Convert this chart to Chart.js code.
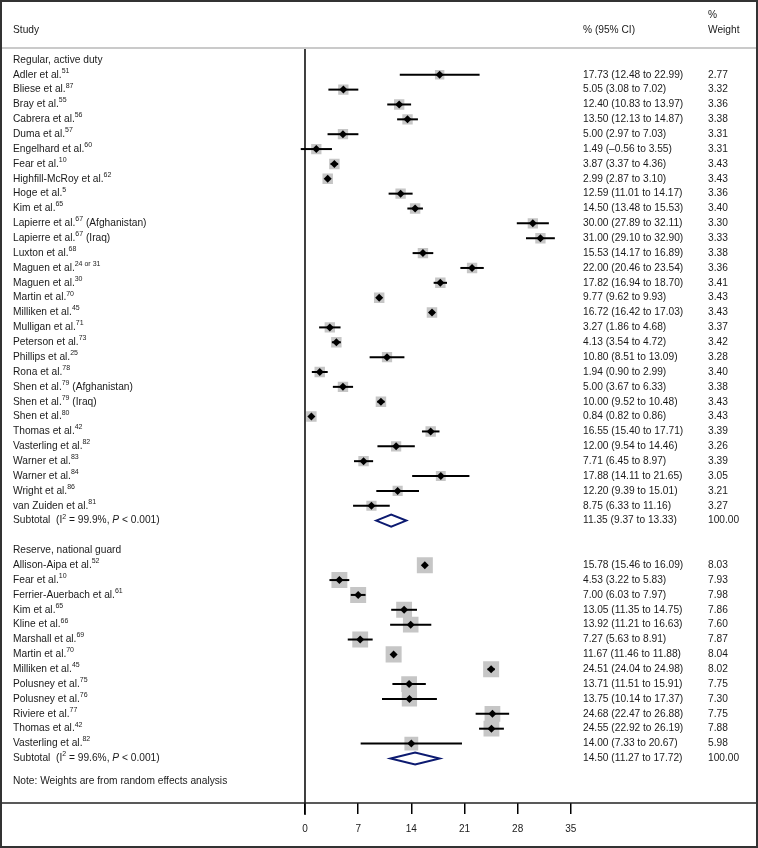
<!DOCTYPE html>
<html>
<head>
<meta charset="utf-8">
<title>Forest plot</title>
<script src="https://cdn.jsdelivr.net/npm/chart.js@4.4.1/dist/chart.umd.min.js"></script>
<style>
  html, body { margin: 0; padding: 0; background: #fff; }
  #wrap { width: 758px; height: 848px; }
</style>
</head>
<body>
<div id="wrap"><canvas id="forest" width="758" height="848"></canvas></div>
<script>
// {..} = superscript, [..] = italic
const regTitle = 'Regular, active duty';
const regNames = [
  'Adler et al.{51}', 'Bliese et al.{87}', 'Bray et al.{55}', 'Cabrera et al.{56}',
  'Duma et al.{57}', 'Engelhard et al.{60}', 'Fear et al.{10}', 'Highfill-McRoy et al.{62}',
  'Hoge et al.{5}', 'Kim et al.{65}', 'Lapierre et al.{67} (Afghanistan)', 'Lapierre et al.{67} (Iraq)',
  'Luxton et al.{68}', 'Maguen et al.{24 or 31}', 'Maguen et al.{30}', 'Martin et al.{70}',
  'Milliken et al.{45}', 'Mulligan et al.{71}', 'Peterson et al.{73}', 'Phillips et al.{25}',
  'Rona et al.{78}', 'Shen et al.{79} (Afghanistan)', 'Shen et al.{79} (Iraq)', 'Shen et al.{80}',
  'Thomas et al.{42}', 'Vasterling et al.{82}', 'Warner et al.{83}', 'Warner et al.{84}',
  'Wright et al.{86}', 'van Zuiden et al.{81}'
];
const regEst = [17.73, 5.05, 12.40, 13.50, 5.00, 1.49, 3.87, 2.99, 12.59, 14.50, 30.00, 31.00,
  15.53, 22.00, 17.82, 9.77, 16.72, 3.27, 4.13, 10.80, 1.94, 5.00, 10.00, 0.84,
  16.55, 12.00, 7.71, 17.88, 12.20, 8.75];
const regLo = [12.48, 3.08, 10.83, 12.13, 2.97, -0.56, 3.37, 2.87, 11.01, 13.48, 27.89, 29.10,
  14.17, 20.46, 16.94, 9.62, 16.42, 1.86, 3.54, 8.51, 0.90, 3.67, 9.52, 0.82,
  15.40, 9.54, 6.45, 14.11, 9.39, 6.33];
const regHi = [22.99, 7.02, 13.97, 14.87, 7.03, 3.55, 4.36, 3.10, 14.17, 15.53, 32.11, 32.90,
  16.89, 23.54, 18.70, 9.93, 17.03, 4.68, 4.72, 13.09, 2.99, 6.33, 10.48, 0.86,
  17.71, 14.46, 8.97, 21.65, 15.01, 11.16];
const regWeight = [2.77, 3.32, 3.36, 3.38, 3.31, 3.31, 3.43, 3.43, 3.36, 3.40, 3.30, 3.33,
  3.38, 3.36, 3.41, 3.43, 3.43, 3.37, 3.42, 3.28, 3.40, 3.38, 3.43, 3.43,
  3.39, 3.26, 3.39, 3.05, 3.21, 3.27];
const regSubtotal = [11.35, 9.37, 13.33];
const regSubLabel = 'Subtotal  (I{2} = 99.9%, [P] < 0.001)';

const resTitle = 'Reserve, national guard';
const resNames = [
  'Allison-Aipa et al.{52}', 'Fear et al.{10}', 'Ferrier-Auerbach et al.{61}', 'Kim et al.{65}',
  'Kline et al.{66}', 'Marshall et al.{69}', 'Martin et al.{70}', 'Milliken et al.{45}',
  'Polusney et al.{75}', 'Polusney et al.{76}', 'Riviere et al.{77}', 'Thomas et al.{42}',
  'Vasterling et al.{82}'
];
const resEst = [15.78, 4.53, 7.00, 13.05, 13.92, 7.27, 11.67, 24.51, 13.71, 13.75, 24.68, 24.55, 14.00];
const resLo = [15.46, 3.22, 6.03, 11.35, 11.21, 5.63, 11.46, 24.04, 11.51, 10.14, 22.47, 22.92, 7.33];
const resHi = [16.09, 5.83, 7.97, 14.75, 16.63, 8.91, 11.88, 24.98, 15.91, 17.37, 26.88, 26.19, 20.67];
const resWeight = [8.03, 7.93, 7.98, 7.86, 7.60, 7.87, 8.04, 8.02, 7.75, 7.30, 7.75, 7.88, 5.98];
const resSubtotal = [14.50, 11.27, 17.72];
const resSubLabel = 'Subtotal  (I{2} = 99.6%, [P] < 0.001)';

const noteText = 'Note: Weights are from random effects analysis';
const xTicks = [0, 7, 14, 21, 28, 35];

// build row layout: one row per line of the table
const studies = [];
const subtotals = [];
const labels = [];
let row = 0;
function addGroup(title, names, est, lo, hi, w, sub, subLabel) {
  labels.push({ row: row++, text: title });
  names.forEach((n, i) => {
    studies.push({ row: row, est: est[i], lo: lo[i], hi: hi[i], w: w[i] });
    labels.push({ row: row++, text: n, ci: [est[i], lo[i], hi[i]], w: w[i] });
  });
  subtotals.push({ row: row, est: sub[0], lo: sub[1], hi: sub[2] });
  labels.push({ row: row++, text: subLabel, ci: sub, w: 100 });
  row++; // blank line
}
addGroup(regTitle, regNames, regEst, regLo, regHi, regWeight, regSubtotal, regSubLabel);
addGroup(resTitle, resNames, resEst, resLo, resHi, resWeight, resSubtotal, resSubLabel);
labels.push({ row: row - 0.5, text: noteText });

const FONT = '10.2px "Liberation Sans", Arial, sans-serif';
const SUP = '7px "Liberation Sans", Arial, sans-serif';
const fmt = v => v.toFixed(2).replace('-', '\u2013');

function drawRich(ctx, text, x, y) {
  text.split(/(\{[^}]*\}|\[[^\]]*\])/).filter(s => s).forEach(p => {
    let s = p, dy = 0;
    ctx.font = FONT;
    if (p[0] === '{') { s = p.slice(1, -1); ctx.font = SUP; dy = -4; }
    else if (p[0] === '[') { s = p.slice(1, -1); ctx.font = 'italic ' + FONT; }
    ctx.fillText(s, x, y + dy);
    x += ctx.measureText(s).width;
  });
}

const forestPlugin = {
  id: 'forest',
  beforeDraw(chart) {
    const c = chart.ctx;
    c.save();
    c.fillStyle = '#fff';
    c.fillRect(0, 0, chart.width, chart.height);
    c.restore();
  },
  afterDatasetDraw(chart, args) {
    if (args.index !== 1) return;
    const { ctx: c, scales: { x, y } } = chart;
    c.save();
    c.strokeStyle = '#000';
    c.lineWidth = 2;
    studies.forEach(s => {
      const py = y.getPixelForValue(s.row);
      c.beginPath();
      c.moveTo(x.getPixelForValue(s.lo), py);
      c.lineTo(x.getPixelForValue(s.hi), py);
      c.stroke();
    });
    c.restore();
  },
  afterDraw(chart) {
    const { ctx: c, scales: { x, y }, chartArea: area } = chart;
    c.save();
    // subtotal diamonds
    c.strokeStyle = '#0c1a70';
    c.fillStyle = '#fff';
    c.lineWidth = 2;
    c.lineJoin = 'miter';
    subtotals.forEach(s => {
      const py = y.getPixelForValue(s.row);
      const pe = x.getPixelForValue(s.est);
      c.beginPath();
      c.moveTo(x.getPixelForValue(s.lo), py);
      c.lineTo(pe, py - 6);
      c.lineTo(x.getPixelForValue(s.hi), py);
      c.lineTo(pe, py + 6);
      c.closePath();
      c.fill();
      c.stroke();
    });
    // frame lines
    const x0 = x.getPixelForValue(0);
    c.strokeStyle = '#000';
    c.lineWidth = 1.5;
    c.beginPath();
    c.moveTo(x0, area.top);
    c.lineTo(x0, area.bottom + 12);
    c.stroke();
    c.strokeStyle = '#222';
    c.lineWidth = 1.6;
    c.beginPath();
    c.moveTo(0, area.bottom);
    c.lineTo(chart.width, area.bottom);
    c.stroke();
    c.strokeStyle = '#cacaca';
    c.lineWidth = 2;
    c.beginPath();
    c.moveTo(0, area.top);
    c.lineTo(chart.width, area.top);
    c.stroke();
    c.strokeStyle = '#333';
    c.lineWidth = 2;
    c.strokeRect(1, 1, chart.width - 2, chart.height - 2);
    // texts
    c.fillStyle = '#1a1a1a';
    c.textBaseline = 'middle';
    c.textAlign = 'left';
    drawRich(c, 'Study', 13, 30);
    drawRich(c, '% (95% CI)', 583, 30);
    drawRich(c, '%', 708, 15);
    drawRich(c, 'Weight', 708, 30);
    labels.forEach(l => {
      const py = y.getPixelForValue(l.row);
      drawRich(c, l.text, 13, py);
      if (l.ci) {
        drawRich(c, fmt(l.ci[0]) + ' (' + fmt(l.ci[1]) + ' to ' + fmt(l.ci[2]) + ')', 583, py);
        drawRich(c, l.w.toFixed(2), 708, py);
      }
    });
    c.restore();
  }
};

const pts = studies.map(s => ({ x: s.est, y: s.row }));

new Chart(document.getElementById('forest'), {
  type: 'scatter',
  data: {
    datasets: [
      {
        label: 'estimate',
        data: pts,
        pointStyle: 'rectRot',
        pointRadius: 4,
        backgroundColor: '#000',
        borderWidth: 0
      },
      {
        label: 'weight',
        data: pts,
        pointStyle: 'rect',
        pointRadius: studies.map(s => 5.65 * Math.sqrt(s.w) / Math.SQRT2),
        backgroundColor: '#c6c6c6',
        borderWidth: 0
      }
    ]
  },
  options: {
    responsive: false,
    animation: false,
    events: [],
    layout: { padding: { left: 297.4, right: 179.6, top: 48, bottom: 4 } },
    plugins: { legend: { display: false }, tooltip: { enabled: false } },
    scales: {
      x: {
        type: 'linear',
        min: -1,
        max: 36,
        afterBuildTicks: axis => { axis.ticks = xTicks.map(v => ({ value: v })); },
        border: { display: false },
        grid: {
          drawOnChartArea: false,
          drawTicks: true,
          tickLength: 11,
          color: '#000',
          lineWidth: 1.5
        },
        ticks: {
          padding: 9,
          color: '#1a1a1a',
          font: { family: '"Liberation Sans", Arial, sans-serif', size: 10 }
        }
      },
      y: {
        type: 'linear',
        display: false,
        reverse: true,
        min: -0.8,
        max: 50
      }
    }
  },
  plugins: [forestPlugin]
});
</script>
</body>
</html>
